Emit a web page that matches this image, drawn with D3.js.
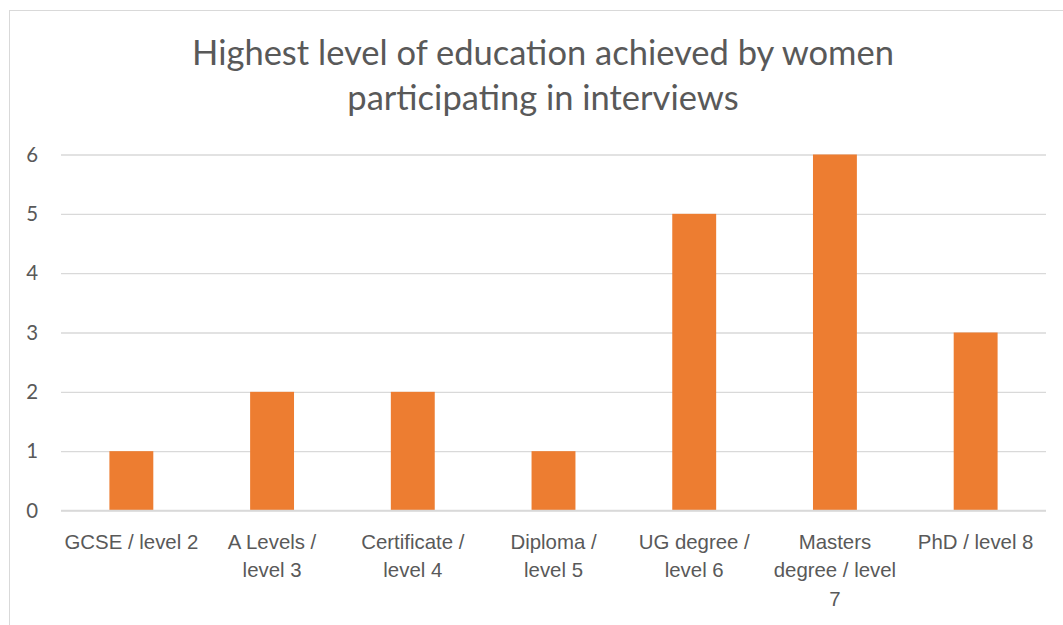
<!DOCTYPE html>
<html>
<head>
<meta charset="utf-8">
<script src="https://cdn.jsdelivr.net/npm/d3@7/dist/d3.min.js"></script>
<style>
  html, body { margin: 0; padding: 0; background: #fff; }
  svg { display: block; font-family: Lato, "Open Sans", sans-serif; }
</style>
</head>
<body>
<svg id="chart" width="1063" height="625"></svg>
<script>
const titleLines = ["Highest level of education achieved by women", "participating in interviews"];
const categories = ["GCSE / level 2", "A Levels / level 3", "Certificate / level 4", "Diploma / level 5", "UG degree / level 6", "Masters degree / level 7", "PhD / level 8"];
const categoryLabelLines = [
  ["GCSE / level 2"],
  ["A Levels /", "level 3"],
  ["Certificate /", "level 4"],
  ["Diploma /", "level 5"],
  ["UG degree /", "level 6"],
  ["Masters", "degree / level", "7"],
  ["PhD / level 8"]
];
const values = [1, 2, 2, 1, 5, 6, 3];
const yTicks = [0, 1, 2, 3, 4, 5, 6];

const svg = d3.select("#chart");
const plot = { left: 61, right: 1046, top: 154.5, bottom: 510.5 };
const textColor = "#595959";
const gridColor = "#D9D9D9";

// chart border
svg.append("rect")
  .attr("x", 9.5).attr("y", 10.5)
  .attr("width", 1100).attr("height", 700)
  .attr("fill", "#fff").attr("stroke", gridColor).attr("stroke-width", 1);

const x = d3.scaleBand().domain(categories).range([plot.left, plot.right]).paddingInner(0.688).paddingOuter(0.344);
const xOuter = d3.scaleBand().domain(categories).range([plot.left, plot.right]);
const y = d3.scaleLinear().domain([0, 6]).range([plot.bottom, plot.top]);

// gridlines
const yAxis = d3.axisLeft(y).tickValues(yTicks).tickSize(-(plot.right - plot.left)).tickPadding(23).tickFormat(d3.format("d"));
const gy = svg.append("g").attr("transform", `translate(${plot.left},0)`).call(yAxis);
gy.select(".domain").remove();
gy.selectAll(".tick line").attr("stroke", gridColor).attr("stroke-width", 1.3);
gy.selectAll(".tick text").attr("fill", textColor).style("font-size", "20.4px").style("font-family", "Lato, 'Open Sans', sans-serif");

// bars
svg.append("g").selectAll("rect").data(values).join("rect")
  .attr("x", (d, i) => x(categories[i]))
  .attr("width", x.bandwidth())
  .attr("y", d => y(d))
  .attr("height", d => y(0) - y(d))
  .attr("fill", "#ED7D31");

// baseline
svg.append("line").attr("x1", plot.left).attr("x2", plot.right).attr("y1", y(0)).attr("y2", y(0))
  .attr("stroke", gridColor).attr("stroke-width", 1.5);

// x labels
const xAxis = d3.axisBottom(xOuter).tickSize(0).tickFormat("");
const gx = svg.append("g").attr("transform", `translate(0,${plot.bottom})`).call(xAxis);
gx.select(".domain").remove();
gx.selectAll(".tick").each(function(d, i) {
  const t = d3.select(this).append("text")
    .attr("fill", textColor).attr("text-anchor", "middle")
    .style("font-size", "20.4px");
  categoryLabelLines[i].forEach((ln, j) => {
    t.append("tspan").attr("x", 0).attr("y", 38 + j * 28.7).text(ln);
  });
});

// title
const title = svg.append("text").attr("text-anchor", "middle").attr("fill", textColor).style("font-size", "34.5px");
titleLines.forEach((ln, j) => {
  title.append("tspan").attr("x", 543).attr("y", 65 + j * 45).text(ln);
});
</script>
</body>
</html>
